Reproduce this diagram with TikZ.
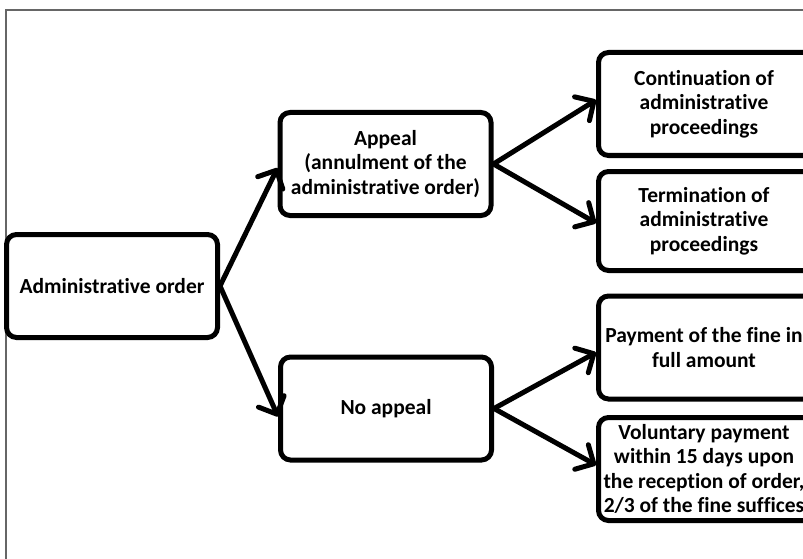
\documentclass[tikz,border=0pt]{standalone}
\usepackage{fontspec}
\setmainfont[Ligatures=NoCommon]{Carlito}
\usetikzlibrary{arrows.meta}
\tikzset{
  boxline/.style={draw, line width=5pt, rounded corners=10pt},
  box/.style={boxline, minimum width=211pt,
    minimum height=103pt, align=center, inner sep=2pt,
    font=\fontsize{21.5pt}{24.5pt}\selectfont\bfseries},
  rbox/.style={box, draw=none, outer sep=2.5pt},
  arr/.style={line width=5pt, line cap=round, line join=round,
    -{Straight Barb[length=14pt, width=28pt, line cap=round, line join=round]}},
  frame/.style={draw=gray!80!black, line width=1.5pt}
}
\begin{document}
\begin{tikzpicture}[x=1pt,y=-1pt]
\useasboundingbox (0,0) rectangle (803,559);
\coordinate (fbl) at (6,570);
\coordinate (ftl) at (6,10);
\coordinate (ftr) at (815,10);
\draw[frame] (fbl) -- (ftl) -- (ftr);
\node[box] (admin) at (112,286) {Administrative order};
\node[box] (appeal) at (385.5,164) {Appeal\\(annulment of the\\administrative order)};
\node[box] (noapp) at (386,408.5) {No appeal};
\node[rbox] (cont) at (704,104) {Continuation of\\administrative\\proceedings};
\node[rbox, minimum height=99pt] (term) at (704,221) {Termination of\\administrative\\proceedings};
\node[rbox] (pay) at (704,347.5) {Payment of the fine in\\full amount};
\node[rbox] (vol) at (704,469) {Voluntary payment\\within 15 days upon\\the reception of order,\\2/3 of the fine suffices};
\foreach \n in {cont,term,pay,vol}
  \draw[boxline] ([shift={(2.5pt,2.5pt)}]\n.south west) rectangle ([shift={(20pt,-2.5pt)}]\n.north east);
\draw[arr] (admin.east) -- ([yshift=-4pt]appeal.west);
\draw[arr] (admin.east) -- ([yshift=-8pt]noapp.west);
\draw[arr] (appeal.east) -- ([yshift=4pt]cont.west);
\draw[arr] (appeal.east) -- ([yshift=-2pt]term.west);
\draw[arr] (noapp.east) -- ([yshift=-5pt]pay.west);
\draw[arr] (noapp.east) -- ([yshift=4pt]vol.west);
\end{tikzpicture}
\end{document}
